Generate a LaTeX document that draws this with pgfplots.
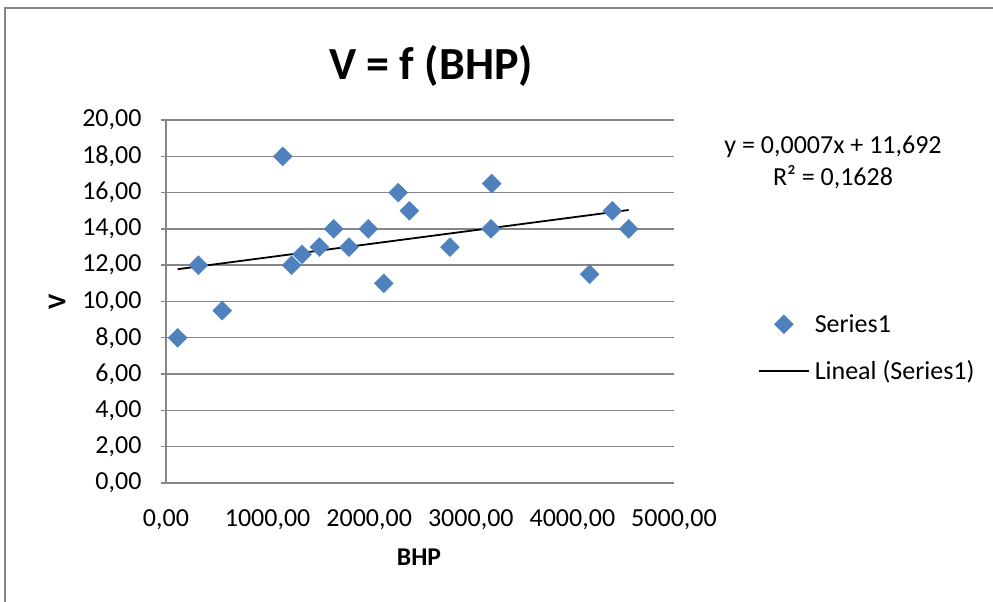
\documentclass[border=0pt]{standalone}
\usepackage{fontspec}
\setmainfont{Carlito}
\usepackage{pgfplots}
\pgfplotsset{compat=1.18}
\definecolor{xlblue}{HTML}{4F81BD}
\definecolor{xlgray}{HTML}{868686}
\pgfplotsset{
  marklegend/.style={legend image code/.code={\draw[#1] plot coordinates {(25pt,0pt)};}},
  linelegend/.style={legend image code/.code={\draw[#1] (0pt,0pt) -- (50pt,0pt);}},
}
\begin{document}
\begin{tikzpicture}[x=1pt,y=1pt]
\path[use as bounding box] (0,0) rectangle (993,602);
\draw[xlgray, line width=1.5pt] (5,-5) -- (5,594) -- (1000,594);
\begin{axis}[
  at={(166pt,119pt)}, anchor=south west,
  width=508pt, height=363pt, scale only axis,
  xmin=0, xmax=5000, ymin=0, ymax=20,
  xtick={0,1000,...,5000}, ytick={0,2,...,20},
  axis lines*=left,
  axis line style={xlgray, line width=1.4pt},
  ymajorgrids, grid style={xlgray, line width=1.4pt},
  xtick style={draw=none},
  ytick style={xlgray, line width=1.4pt},
  major tick length=5pt, tick align=outside,
  ticklabel style={font=\fontsize{26}{30}\selectfont},
  yticklabel style={xshift=-16pt},
  xticklabel style={yshift=-18pt},
  /pgf/number format/.cd, fixed, fixed zerofill, precision=2, use comma, 1000 sep={}, assume math mode=true,
  /pgfplots/.cd,
  xlabel={BHP}, ylabel={V},
  label style={font=\fontsize{25.6}{30}\selectfont\bfseries},
  xlabel style={at={(axis description cs:0.498,-0.204)}, anchor=center},
  ylabel style={at={(axis description cs:-0.2146,0.499)}, anchor=center},
  legend style={at={(rel axis cs:1.159,0.372)}, anchor=west, draw=none, fill=none,
    font=\fontsize{26}{30}\selectfont, row sep=23pt, column sep=3pt},
  legend cell align=left,
  clip=false,
]
\addplot[only marks, mark=square*, mark size=6.7pt,
  mark options={rotate=45, fill=xlblue, draw=xlblue}, marklegend]
coordinates {
(115,8.0) (318,12.0) (554,9.5) (1149,18.0) (1237,12.0) (1339,12.6)
(1509,13.0) (1651,14.0) (1801,13.0) (1991,14.0) (2143,11.0) (2286,16.0)
(2395,15.0) (2795,13.0) (3206,16.5) (3199,14.0) (4170,11.5) (4393,15.0)
(4554,14.0)
};
\addlegendentry{Series1}
\addplot[black, line width=1.8pt, linelegend]
coordinates {(115,11.78) (4554,15.04)};
\addlegendentry{Lineal (Series1)}
\end{axis}
\node[font=\fontsize{46}{55}\selectfont\bfseries, anchor=base] at (431,522) {V = f (BHP)};
\node[font=\fontsize{26}{32}\selectfont, align=center] at (833,440) {y = 0,0007x + 11,692\\R² = 0,1628};
\end{tikzpicture}
\end{document}
